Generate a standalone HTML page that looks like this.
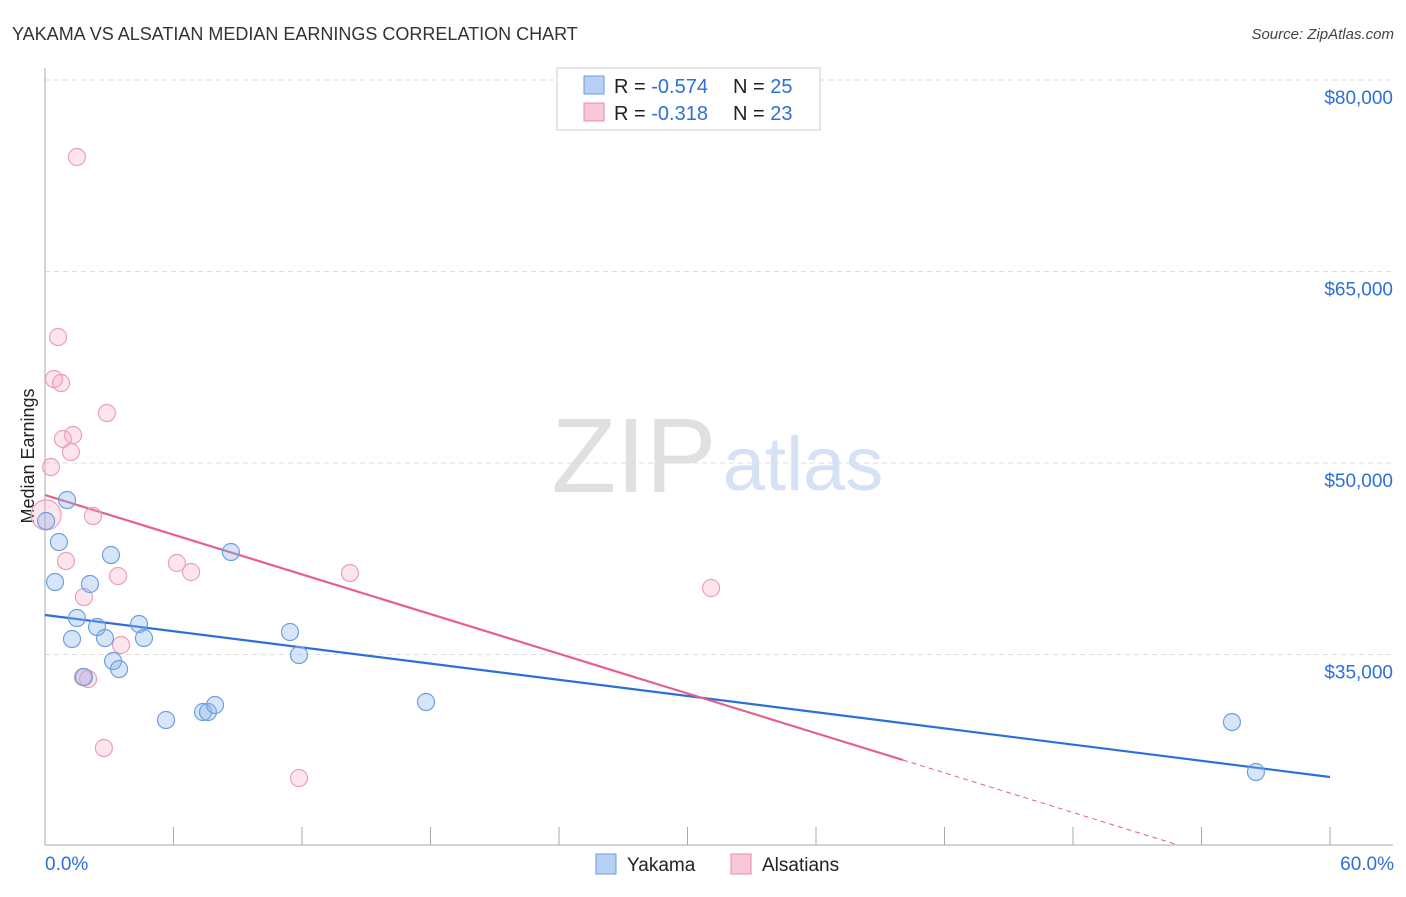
<!DOCTYPE html>
<html><head><meta charset="utf-8"><style>
body{margin:0;background:#fff;font-family:"Liberation Sans",sans-serif;}
svg text{font-family:"Liberation Sans",sans-serif;}
</style></head><body>
<svg width="1406" height="892" viewBox="0 0 1406 892">
<text x="12" y="40" font-size="18" fill="#333">YAKAMA VS ALSATIAN MEDIAN EARNINGS CORRELATION CHART</text>
<text x="1394" y="39" font-size="15" fill="#444" text-anchor="end" font-style="italic">Source: ZipAtlas.com</text>
<g>
<text x="634" y="492" font-size="106" fill="#e0e0e0" text-anchor="middle" font-family="Liberation Serif, serif">ZIP</text>
<text x="803" y="490" font-size="76" fill="#d5e1f5" text-anchor="middle">atlas</text>
</g>
<g id="grid"></g>
<g id="axes"></g>
<text transform="translate(34,456) rotate(-90)" font-size="18" fill="#222" text-anchor="middle">Median Earnings</text>
<g id="lines"></g>
<g id="pts"></g>
<g>
<rect x="557" y="68" width="263" height="62" fill="#fff" stroke="#ccc"/>
<rect x="584" y="76" width="20" height="18" fill="#b7d1f5" stroke="#6a9be0"/>
<rect x="584" y="103" width="20" height="18" fill="#f9c8d6" stroke="#e88aa6"/>
<text x="614" y="93" font-size="20" fill="#222">R = <tspan fill="#2d6fd8">-0.574</tspan></text>
<text x="733" y="93" font-size="20" fill="#222">N = <tspan fill="#2d6fd8">25</tspan></text>
<text x="614" y="120" font-size="20" fill="#222">R = <tspan fill="#2d6fd8"> -0.318</tspan></text>
<text x="733" y="120" font-size="20" fill="#222">N = <tspan fill="#2d6fd8">23</tspan></text>
</g>
<g>
<rect x="596" y="854" width="20" height="20" fill="#b7d1f5" stroke="#6a9be0"/>
<text x="627" y="871" font-size="19" fill="#222">Yakama</text>
<rect x="731" y="854" width="20" height="20" fill="#f9c8d6" stroke="#e88aa6"/>
<text x="762" y="871" font-size="19" fill="#222">Alsatians</text>
</g>
</svg>
<script>
const yTicks=[80000,65000,50000,35000];
const yTickLabels=["$80,000","$65,000","$50,000","$35,000"];
const xTickLabels=["0.0%","60.0%"];
const yakamaX=[0.05,1.03,0.65,0.47,3.08,2.10,1.49,2.43,1.26,2.80,4.39,4.62,3.18,3.46,1.82,5.65,7.38,7.61,7.94,8.68,11.44,11.86,17.79,55.42,56.54];
const yakamaY=[45456,47100,43811,40678,42793,40522,37858,37153,36213,36292,37388,36292,34490,33864,33237,29869,30495,30495,31044,43028,36762,34960,31279,29712,25796];
const alsX=[1.49,0.61,0.42,0.75,2.89,0.84,1.31,1.21,0.28,2.24,0.05,0.98,1.82,3.41,6.16,6.82,14.24,3.55,1.77,2.01,2.75,11.86,31.10];
const alsY=[73969,59869,56579,56266,53916,51880,52193,50861,49686,45848,45926,42323,39503,41148,42167,41462,41383,35744,33237,33080,27676,25326,40208];
const yakamaTrend=[38093,25404];
const alsTrend=[47493,26736];
const alsTrendEndX=40.06;
const NS="http://www.w3.org/2000/svg";
const X=p=>45+p*(1330-45)/60;
const Y=v=>80+(80000-v)*191.5/15000;
function mk(tag,attrs,parent){const e=document.createElementNS(NS,tag);for(const k in attrs)e.setAttribute(k,attrs[k]);document.getElementById(parent).appendChild(e);return e;}
yTicks.forEach((v,i)=>{
 const g=mk('line',{x1:45,x2:1393,y1:Y(v),y2:Y(v),stroke:'#ddd','stroke-dasharray':'5,4'},'grid');
 
 
 const t=mk('text',{x:1393,y:Y(v)+24,'font-size':19,fill:'#2d6fd8','text-anchor':'end'},'grid');
 t.textContent=yTickLabels[i];
 
 
});
let a=mk('line',{x1:45,x2:45,y1:68,y2:845,stroke:'#aaa'},'axes');


a=mk('line',{x1:45,x2:1393,y1:845,y2:845,stroke:'#aaa'},'axes');


for(let i=0;i<=10;i++){const t=mk('line',{x1:X(i*6),x2:X(i*6),y1:827,y2:845,stroke:'#aaa'},'axes');
 
 }
[0,60].forEach((p,i)=>{const t=mk('text',{x:i?1394:45,y:870,'font-size':19,fill:'#2d6fd8','text-anchor':i?'end':'start'},'axes');t.textContent=xTickLabels[i];
 
 });
let l=mk('line',{x1:X(0),y1:Y(yakamaTrend[0]),x2:X(60),y2:Y(yakamaTrend[1]),stroke:'#2b6fd8','stroke-width':2.2},'lines');


l=mk('line',{x1:X(0),y1:Y(alsTrend[0]),x2:X(alsTrendEndX),y2:Y(alsTrend[1]),stroke:'#e5608c','stroke-width':2.2},'lines');


const slope=(alsTrend[1]-alsTrend[0])/alsTrendEndX;
const yBottom=845, vb=80000-(yBottom-80)*15000/191.5, xb=(vb-alsTrend[0])/slope;
l=mk('line',{x1:X(alsTrendEndX),y1:Y(alsTrend[1]),x2:X(xb),y2:yBottom,stroke:'#e5608c','stroke-width':1,'stroke-dasharray':'5,4'},'lines');


alsX.forEach((x,i)=>{const c=mk('circle',{cx:X(x),cy:Y(alsY[i]),r:i==10?15:8.5,fill:'rgba(246,170,195,0.3)',stroke:'#eba0b8','stroke-width':1.2},'pts');
 
 });
yakamaX.forEach((x,i)=>{const c=mk('circle',{cx:X(x),cy:Y(yakamaY[i]),r:8.5,fill:'rgba(140,180,235,0.35)',stroke:'#6f9fe0','stroke-width':1.2},'pts');
 
 });
</script>
</body></html>
